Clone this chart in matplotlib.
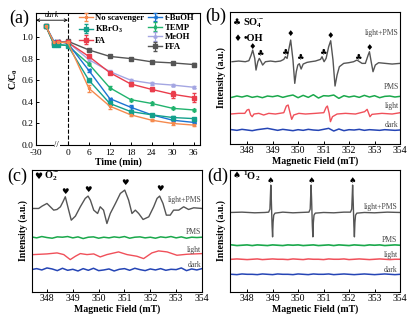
import numpy as np
import matplotlib.pyplot as plt
from matplotlib.lines import Line2D

plt.rcParams['font.family'] = ['Liberation Serif', 'DejaVu Sans']
plt.rcParams['mathtext.fontset'] = 'custom'
plt.rcParams['mathtext.rm'] = 'Liberation Serif'
plt.rcParams['mathtext.bf'] = 'Liberation Serif:bold'
plt.rcParams['mathtext.it'] = 'Liberation Serif:italic'
plt.rcParams['xtick.direction'] = 'in'
plt.rcParams['ytick.direction'] = 'in'

# ---------------- (a) degradation data ----------------
# x positions on the broken time axis (dark part is compressed)
x_dark = [-6.3, -4.0]
x_main = [-2.9, 0, 6, 12, 18, 24, 30, 36]
xtick_pos = [-9.14, 0, 6, 12, 18, 24, 30, 36]
xtick_lab = ['-30', '0', '6', '12', '18', '24', '30', '36']

noscav = [0.95, 0.95, 0.525, 0.36, 0.28, 0.23, 0.20, 0.185]
kbro3 = [0.93, 0.92, 0.60, 0.385, 0.31, 0.28, 0.255, 0.245]
fa = [0.95, 0.95, 0.82, 0.67, 0.565, 0.515, 0.47, 0.44]
tbuoh = [0.96, 0.94, 0.69, 0.43, 0.35, 0.28, 0.23, 0.21]
temp = [0.93, 0.92, 0.75, 0.53, 0.42, 0.385, 0.34, 0.325]
meoh = [0.95, 0.95, 0.79, 0.68, 0.60, 0.57, 0.555, 0.535]
ffa = [0.95, 0.96, 0.88, 0.82, 0.80, 0.77, 0.76, 0.745]

err_noscav = [0, 0.01, 0.03, 0.03, 0.015, 0.01, 0.01, 0.01]
err_kbro3 = [0, 0.01, 0.015, 0.01, 0.01, 0.01, 0.01, 0.01]
err_fa = [0, 0.01, 0.01, 0.01, 0.02, 0.015, 0.03, 0.045]
err_tbuoh = [0, 0.02, 0.01, 0.01, 0.025, 0.01, 0.01, 0.01]
err_temp = [0, 0.01, 0.01, 0.015, 0.01, 0.01, 0.01, 0.01]
err_meoh = [0, 0.01, 0.01, 0.01, 0.015, 0.01, 0.01, 0.01]
err_ffa = [0, 0.01, 0.005, 0.005, 0.005, 0.005, 0.01, 0.01]

dark_noscav = [1.10, 0.95]
dark_kbro3 = [1.10, 0.93]
dark_tbuoh = [1.10, 0.96]
dark_other = [1.10, 0.94]

# ---------------- (b) DMPO, SO4/OH ----------------
b_lp_x = [347.41, 347.67, 347.93, 348.07, 348.16, 348.22, 348.30, 348.35, 348.42, 348.48,
          348.55, 348.61, 348.72, 348.92, 349.11, 349.31, 349.44, 349.50, 349.57, 349.63,
          349.71, 349.80, 349.87, 349.93, 349.99, 350.05, 350.12, 350.20, 350.35, 350.50,
          350.68, 350.88, 350.94, 351.02, 351.10, 351.20, 351.28, 351.37, 351.45, 351.53,
          351.62, 351.79, 351.99, 352.18, 352.31, 352.41, 352.51, 352.64, 352.75, 352.80,
          352.88, 352.94, 353.03, 353.16, 353.42, 353.69, 354.00]
b_lp_y = [2, 4, 2, 5, 22, 37, 12, -23, 2, 12,
          2, -8, 2, 4, 2, 4, 9, 17, 12, 37,
          67, 7, -63, -28, -8, -4, -20, -5, 0, 2,
          4, 9, 17, 2, 12, 47, 65, 7, -71, -38,
          -13, -3, -1, 2, 7, 2, -3, -3, 22, 32,
          -3, -28, -8, -1, -3, -5, -3]
b_light_x = [347.35, 347.67, 347.91, 348.00, 348.07, 348.14, 348.20, 348.27, 348.46, 348.65,
             348.85, 349.11, 349.44, 349.54, 349.61, 349.69, 349.75, 349.83, 350.03, 350.29,
             350.68, 351.01, 351.10, 351.15, 351.22, 351.27, 351.35, 351.53, 351.86, 352.25,
             352.61, 352.71, 352.77, 352.82, 352.90, 353.29, 353.69, 354.01]
b_light_y = [-2, 0, 0, 10, 12, -5, -10, -2, 0, -5,
             0, -2, 2, 22, 25, 0, -18, -5, 0, -2,
             0, 2, 18, 22, 0, -25, -10, -2, 0, -2,
             5, 12, 0, -10, -3, 0, -2, 2]
grid_x = np.round(np.arange(347.4, 354.01, 0.2), 1)
b_pms_y = [-2, 2, -1, 3, -2, 1, -3, 2, 0, 3, -2, 2, 5, -3, 4, -2, 6,
           -4, 3, 2, 5, -5, 3, -1, 2, -2, 4, -1, 3, -3, 1, 2, -1, 1]
b_dark_y = [1, -1, 2, 0, -2, 1, 3, 5, 2, -1, 2, 0, -2, 1, -1, 2, 0,
            -1, 2, 5, -3, 3, -2, 1, 0, 2, -1, 1, 0, -1, 1, 0, -1, 0]
b_offsets = [245, 142, 92, 42]
b_club_x = [348.50, 349.48, 350.07, 350.97, 352.35]
b_club_y = [29, 32, 17, 32, 17]
b_diam_x = [348.22, 349.71, 351.28, 352.80]
b_diam_y = [49, 87, 82, 45]

# ---------------- (c) O2 radical ----------------
c_lp_x = [347.48, 347.68, 347.81, 348.00, 348.13, 348.26, 348.39, 348.52, 348.62, 348.71,
          348.84, 348.94, 349.10, 349.29, 349.48, 349.59, 349.68, 349.81, 349.96, 350.06,
          350.19, 350.32, 350.45, 350.65, 350.84, 351.01, 351.16, 351.29, 351.42, 351.55,
          351.72, 351.94, 352.13, 352.26, 352.36, 352.49, 352.62, 352.77, 352.90, 353.10,
          353.29, 353.48, 353.68, 354.00]
c_lp_y = [0, 0, 7, 15, 5, -5, -3, 5, 20, 35,
          -5, -35, -23, 5, 30, 37, 25, -5, -15, 5,
          -5, -45, -15, 15, 45, 55, 25, -15, -5, -15,
          -33, -25, 5, 30, 37, 15, -20, -20, -5, -5,
          5, -3, 2, 0]
c_light_x = [347.48, 348.00, 348.39, 348.65, 348.90, 349.10, 349.29, 349.55, 349.81, 350.06,
             350.32, 350.77, 351.10, 351.48, 351.74, 352.06, 352.32, 352.65, 353.03, 353.42,
             354.00]
c_light_y = [0, 2, 5, 0, -15, -5, 3, 0, 2, -7,
             0, 8, 0, -5, -12, 5, 11, 8, -2, 1,
             3]
c_pms_y = [2, -1, 3, 0, -2, 2, 1, 3, -1, 2, -3, 1, 2, -2, 1, -1, 2,
           0, 3, -2, 1, 2, -1, 1, -2, 2, 0, 3, -1, 2, -2, 1, 0, 1]
c_dark_y = [0, 3, -1, 5, 2, -3, 4, -2, 1, -4, 3, -2, 4, -3, -1, 2, -4,
            1, 3, -2, 4, 0, -3, 2, -1, 3, -2, 1, 0, 5, -3, 2, -1, 3]
c_offsets = [250, 163, 112, 67]
c_heart_x = [348.71, 349.59, 351.01, 352.36]
c_heart_y = [45, 53, 73, 55]

# ---------------- (d) singlet oxygen ----------------
d_lp_x = [347.35, 347.80, 348.30, 348.70,
          348.845, 348.895, 348.915, 348.930, 348.950, 348.965, 348.980, 349.000, 349.020, 349.045, 349.095,
          349.40, 349.80, 350.10,
          350.425, 350.475, 350.495, 350.510, 350.530, 350.545, 350.560, 350.580, 350.600, 350.625, 350.675,
          351.00, 351.40, 351.80,
          352.055, 352.105, 352.125, 352.140, 352.160, 352.175, 352.190, 352.210, 352.230, 352.255, 352.305,
          352.60, 353.00, 353.50, 354.00]
d_lp_y = [0, 1, -1, 0,
          1, 10, 50, 82, 40, 0, -40, -73, -30, -8, -2,
          1, -1, 0,
          1, 10, 50, 82, 40, 0, -40, -73, -30, -8, -2,
          0, -1, 1,
          1, 10, 50, 82, 40, 0, -40, -73, -30, -8, -2,
          0, -1, 1, 0]
d_pms_y = [1, -1, 0, 1, -1, 1, 0, -1, 1, 0, -1, 1, 0, 1, -1, 0, 1,
           -1, 0, 1, -1, 1, 0, -1, 1, 0, -1, 1, 0, 1, -1, 0, 1, 0]
d_light_y = [0, 1, 0, -1, 0, 1, -1, 0, 1, 0, 0, -1, 1, 0, -1, 1, 0,
             0, -1, 1, 0, 0, 1, -1, 0, 1, 0, -1, 0, 1, 0, -1, 0, 0]
d_dark_y = [0, -1, 1, 0, 0, -1, 1, 0, -1, 1, 0, 0, -1, 1, 0, -1, 1,
            0, 0, 1, -1, 0, 1, 0, -1, 0, 1, 0, -1, 0, 1, 0, -1, 0]
d_offsets = [238, 140, 98, 53]
d_spade_x = [348.93, 350.51, 352.14]

trace_labels = ['light+PMS', 'PMS', 'light', 'dark']
trace_colors = ['#555555', '#1aa84b', '#f0505a', '#2545b5']

fig = plt.figure(figsize=(4.17, 3.21), dpi=100)

# ============ (a) ============
ax = fig.add_axes([0.0863, 0.548, 0.393, 0.411])
series = [
    ('No scavenger', noscav, err_noscav, dark_noscav, '#f58a4e', '*'),
    (r'KBrO$_\mathbf{3}$', kbro3, err_kbro3, dark_kbro3, '#14a08c', 's'),
    ('FA', fa, err_fa, dark_other, '#ea3d4c', 's'),
    ('t-BuOH', tbuoh, err_tbuoh, dark_tbuoh, '#1c74d2', '<'),
    ('TEMP', temp, err_temp, dark_other, '#21b36e', 'd'),
    ('MeOH', meoh, err_meoh, dark_other, '#a4a6e2', '^'),
    ('FFA', ffa, err_ffa, dark_other, '#555555', 's'),
]
handles = []
for name, vals, errs, dvals, col, mk in reversed(series):
    ax.plot(x_dark, dvals, color=col, lw=1.0, marker=mk, ms=2.2)
    h = ax.errorbar(x_main, vals, yerr=errs, color=col, lw=1.0, marker=mk, ms=2.2,
                    capsize=1.5, elinewidth=0.8, label=name)
    handles.append(h)
handles = handles[::-1]
blank = Line2D([], [], linestyle='none', marker='none')
leg_h = handles[:3] + [blank] + handles[3:]
leg_l = [s[0] for s in series[:3]] + [''] + [s[0] for s in series[3:]]
ax.legend(leg_h, leg_l, ncol=2, loc='upper left', bbox_to_anchor=(0.24, 1.02),
          frameon=False, prop={'weight': 'bold', 'size': 6.2}, handlelength=1.6,
          handletextpad=0.3, columnspacing=0.5, labelspacing=0.2, borderaxespad=0)
ax.axvline(0, color='k', ls='--', lw=0.8)
ax.annotate('', xy=(-9.14, 1.155), xytext=(0, 1.155),
            arrowprops=dict(arrowstyle='<->', lw=0.6, shrinkA=0, shrinkB=0,
                            mutation_scale=5))
ax.text(-4.6, 1.165, 'dark', fontsize=5.5, ha='center', va='bottom', style='italic')
ax.text(-3.2, 0.0, '//', fontsize=6, ha='center', va='center',
        bbox=dict(facecolor='white', edgecolor='none', pad=0.3))
ax.set_xlim(-9.14, 37.8)
ax.set_ylim(0, 1.22)
ax.set_xticks(xtick_pos)
ax.set_xticklabels(xtick_lab)
ax.set_yticks([0, 0.2, 0.4, 0.6, 0.8, 1.0])
ax.set_yticklabels(['0.0', '0.2', '0.4', '0.6', '0.8', '1.0'])
ax.tick_params(labelsize=6.8, length=2.5, width=0.7)
ax.tick_params(axis='x', pad=2.5)
ax.tick_params(axis='y', pad=2)
ax.set_xlabel('Time (min)', fontsize=7, fontweight='bold', labelpad=0.5)
ax.set_ylabel(r'C/C$_\mathbf{0}$', fontsize=7, fontweight='bold', labelpad=1)
for sp in ax.spines.values():
    sp.set_linewidth(0.8)


def setup(a, xmin, ymax):
    a.set_xlim(xmin, 354)
    a.set_ylim(0, ymax)
    a.set_yticks([])
    a.set_xticks([348, 349, 350, 351, 352, 353, 354])
    a.tick_params(labelsize=7, length=2.5, width=0.7, pad=1.5)
    a.set_xlabel('Magnetic Field (mT)', fontsize=7, fontweight='bold', labelpad=1)
    a.set_ylabel('Intensity (a.u.)', fontsize=7, fontweight='bold', labelpad=3)
    for sp in a.spines.values():
        sp.set_linewidth(0.8)


def labels(a, xr, ys):
    for lab, yy in zip(trace_labels, ys):
        a.text(xr, yy, lab, fontsize=5.5, color='#444444', ha='right', va='center')


sym = dict(family=['DejaVu Sans'], fontsize=6, ha='center', va='center', color='k')

# ============ (b) ============
ax = fig.add_axes([0.5516, 0.5514, 0.4077, 0.411])
setup(ax, 347.33, 396)
ax.plot(b_lp_x, np.array(b_lp_y) + b_offsets[0], color=trace_colors[0], lw=1.0)
ax.plot(grid_x, np.array(b_pms_y) + b_offsets[1], color=trace_colors[1], lw=1.1)
ax.plot(b_light_x, np.array(b_light_y) + b_offsets[2], color=trace_colors[2], lw=1.0)
ax.plot(grid_x, np.array(b_dark_y) + b_offsets[3], color=trace_colors[3], lw=1.1)
for xx, yy in zip(b_club_x, b_club_y):
    ax.text(xx, yy + b_offsets[0], '\u2663', **sym)
for xx, yy in zip(b_diam_x, b_diam_y):
    ax.text(xx, yy + b_offsets[0], '\u2666', **sym)
labels(ax, 353.95, [332, 170, 114, 57])
ax.text(347.45, 363, '\u2663', family=['DejaVu Sans'], fontsize=6.5, va='center')
ax.text(347.85, 363, r'SO$_\mathbf{4}^{\bullet\mathbf{-}}$', fontsize=7.5,
        fontweight='bold', va='center')
ax.text(347.45, 318, '\u2666', family=['DejaVu Sans'], fontsize=6.5, va='center')
ax.text(347.85, 318, '\u2022OH', fontsize=7.5, fontweight='bold', va='center')

# ============ (c) ============
ax = fig.add_axes([0.0767, 0.0903, 0.4077, 0.380])
setup(ax, 347.42, 365)
ax.plot(c_lp_x, np.array(c_lp_y) + c_offsets[0], color=trace_colors[0], lw=1.0)
ax.plot(grid_x, np.array(c_pms_y) + c_offsets[1], color=trace_colors[1], lw=1.1)
ax.plot(c_light_x, np.array(c_light_y) + c_offsets[2], color=trace_colors[2], lw=1.0)
ax.plot(grid_x, np.array(c_dark_y) + c_offsets[3], color=trace_colors[3], lw=1.1)
for xx, yy in zip(c_heart_x, c_heart_y):
    ax.text(xx, yy + c_offsets[0] + 5, '\u2665', **sym)
labels(ax, 353.97, [275, 180, 127, 82])
ax.text(347.5, 345, '\u2665', family=['DejaVu Sans'], fontsize=6.5, va='center')
ax.text(347.9, 345, r'O$_\mathbf{2}^{\bullet\mathbf{-}}$', fontsize=7.5,
        fontweight='bold', va='center')

# ============ (d) ============
ax = fig.add_axes([0.5516, 0.0903, 0.4077, 0.380])
setup(ax, 347.33, 365)
ax.plot(d_lp_x, np.array(d_lp_y) + d_offsets[0], color=trace_colors[0], lw=1.0)
ax.plot(grid_x, np.array(d_pms_y) + d_offsets[1], color=trace_colors[1], lw=1.2)
ax.plot(grid_x, np.array(d_light_y) + d_offsets[2], color=trace_colors[2], lw=1.1)
ax.plot(grid_x, np.array(d_dark_y) + d_offsets[3], color=trace_colors[3], lw=1.1)
for xx in d_spade_x:
    ax.text(xx, d_offsets[0] + 96, '\u2660', **sym)
labels(ax, 353.9, [253, 157, 112, 67])
ax.text(347.45, 348, '\u2660', family=['DejaVu Sans'], fontsize=6.5, va='center')
ax.text(347.85, 348, r'$^\mathbf{1}$O$_\mathbf{2}$', fontsize=7.5,
        fontweight='bold', va='center')

# panel letters
for lab, xx, yy in [('(a)', 19, 18), ('(b)', 216, 16), ('(c)', 17, 176), ('(d)', 218, 176)]:
    fig.text(xx / 417, 1 - yy / 321, lab, fontsize=13, ha='center', va='center')

fig.savefig('out.png', dpi=100)
